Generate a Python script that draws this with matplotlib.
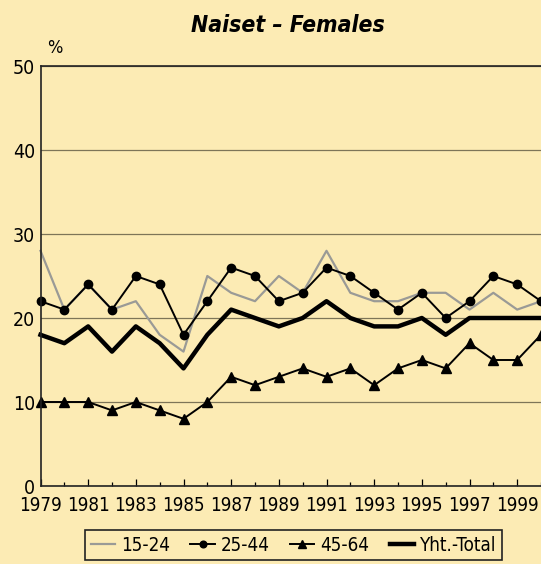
import matplotlib.pyplot as plt
from matplotlib.ticker import MultipleLocator

years = list(range(1979, 2001))
age_15_24 = [28, 21, 24, 21, 22, 18, 16, 25, 23, 22, 25, 23, 28, 23, 22, 22, 23, 23, 21, 23, 21, 22]
age_25_44 = [22, 21, 24, 21, 25, 24, 18, 22, 26, 25, 22, 23, 26, 25, 23, 21, 23, 20, 22, 25, 24, 22]
age_45_64 = [10, 10, 10, 9, 10, 9, 8, 10, 13, 12, 13, 14, 13, 14, 12, 14, 15, 14, 17, 15, 15, 18]
total = [18, 17, 19, 16, 19, 17, 14, 18, 21, 20, 19, 20, 22, 20, 19, 19, 20, 18, 20, 20, 20, 20]

bg = '#fcebb4'
plt.rcParams['font.family'] = ['DejaVu Sans']
plt.rcParams['font.stretch'] = 'condensed'

fig = plt.figure(figsize=(5.41, 5.64), dpi=100, facecolor=bg)
ax = fig.add_axes([40.5 / 541, 1 - 486 / 564, 1 - 40.5 / 541, 420 / 564])
ax.set_facecolor(bg)

ax.plot(years, age_15_24, color='#9a9a96', lw=1.6, label='15-24', clip_on=False)
ax.plot(years, age_25_44, color='black', lw=1.4, marker='o', ms=6, label='25-44', clip_on=False)
ax.plot(years, age_45_64, color='black', lw=1.4, marker='^', ms=7, label='45-64', clip_on=False)
ax.plot(years, total, color='black', lw=3.2, label='Yht.-Total', clip_on=False)

ax.set_xlim(1979, 2000)
ax.set_ylim(0, 50)
ax.set_yticks([0, 10, 20, 30, 40, 50])
ax.set_xticks(range(1979, 2000, 2))
ax.xaxis.set_minor_locator(MultipleLocator(1))
ax.tick_params(axis='x', which='major', direction='in', length=5, width=0.9, pad=7, labelsize=13.5)
ax.tick_params(axis='x', which='minor', direction='in', length=3, width=0.9)
ax.tick_params(axis='y', length=0, pad=4, labelsize=14)
ax.grid(axis='y', color='#7d7558', lw=0.9)
ax.set_axisbelow(True)

for s in ['left', 'top', 'bottom']:
    ax.spines[s].set_color('#222222')
    ax.spines[s].set_linewidth(1.2)
ax.spines['right'].set_visible(False)

fig.text(55 / 541, 1 - 48 / 564, '%', fontsize=13, ha='center', va='center')
fig.text(288 / 541, 1 - 25 / 564, 'Naiset – Females', fontsize=16.5, fontweight='bold',
         fontstyle='italic', ha='center', va='center')

leg = fig.legend(loc='upper center', bbox_to_anchor=(0.5425, 1 - 530 / 564), ncol=4,
                 fontsize=13.5, frameon=True, fancybox=False, edgecolor='#222222',
                 facecolor=bg, framealpha=1, handlelength=1.3, handletextpad=0.3,
                 columnspacing=1.1, borderpad=0.3, borderaxespad=0, markerscale=0.8)
leg.get_frame().set_linewidth(1.2)

fig.savefig('out.png', dpi=100, facecolor=bg)
